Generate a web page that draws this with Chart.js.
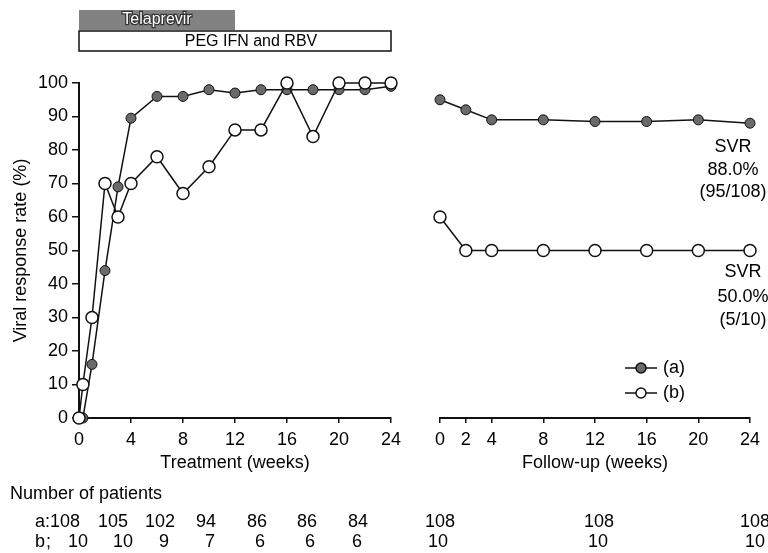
<!DOCTYPE html>
<html>
<head>
<meta charset="utf-8">
<script src="https://cdn.jsdelivr.net/npm/chart.js@4.4.1/dist/chart.umd.min.js"></script>
<style>
html, body { margin: 0; padding: 0; background: #fff; }
#wrap { position: relative; width: 768px; height: 553px; }
#wrap canvas { position: absolute; left: 0; top: 0; }
</style>
</head>
<body>
<div id="wrap">
  <canvas id="treat" width="768" height="553"></canvas>
  <canvas id="follow" width="768" height="553"></canvas>
</div>
<script>
// values
var treat_weeks = [0, 0.3, 1, 2, 3, 4, 6, 8, 10, 12, 14, 16, 18, 20, 22, 24];
var treat_a = [0, 0, 16, 44, 69, 89.5, 96, 96, 98, 97, 98, 98, 98, 98, 98, 99];
var treat_b = [0, 10, 30, 70, 60, 70, 78, 67, 75, 86, 86, 100, 84, 100, 100, 100];

var follow_weeks = [0, 2, 4, 8, 12, 16, 20, 24];
var follow_a = [95, 92, 89, 89, 88.5, 88.5, 89, 88];
var follow_b = [60, 50, 50, 50, 50, 50, 50, 50];

var treat_ticks = [0, 4, 8, 12, 16, 20, 24];
var follow_ticks = [0, 2, 4, 8, 12, 16, 20, 24];

var patients_a = ['108', '105', '102', '94', '86', '86', '84', '108', '108', '108'];
var patients_b = ['10', '10', '9', '7', '6', '6', '6', '10', '10', '10'];

var svr_a = ['SVR', '88.0%', '(95/108)'];
var svr_b = ['SVR', '50.0%', '(5/10)'];

var FONT = "'Liberation Sans', Arial, Helvetica, sans-serif";
Chart.defaults.font.family = FONT;
Chart.defaults.color = '#000';

function to_points(xs, ys) {
    var out = [];
    for (var i = 0; i < xs.length; i++) {
        out.push({x: xs[i], y: ys[i]});
    }
    return out;
}

function series(label, xs, ys, filled) {
    return {
        label: label,
        data: to_points(xs, ys),
        borderColor: '#111',
        borderWidth: 1.5,
        pointBackgroundColor: filled ? '#6a6a6a' : '#fff',
        pointBorderColor: '#111',
        pointBorderWidth: filled ? 1 : 1.5,
        pointRadius: filled ? 5 : 6,
        tension: 0,
        clip: false
    };
}

function x_scale(ticks, title, height) {
    return {
        type: 'linear',
        min: 0,
        max: 24,
        afterBuildTicks: function (s) {
            s.ticks = ticks.map(function (v) { return {value: v}; });
        },
        afterFit: function (s) { s.height = height; },
        grid: {drawOnChartArea: false, drawTicks: true, tickLength: 5, color: '#111', lineWidth: 1.5},
        border: {display: true, color: '#111', width: 2},
        ticks: {font: {size: 18}, padding: 6, maxRotation: 0, autoSkip: false, color: '#000'},
        title: {display: true, text: title, font: {size: 18}, padding: {top: 0, bottom: 0}, color: '#000'}
    };
}

// top bars and the patient table
var treatDecor = {
    id: 'treatDecor',
    afterDraw: function (chart) {
        var ctx = chart.ctx;
        var xs = chart.scales.x;
        var x0 = xs.getPixelForValue(0);
        var x12 = xs.getPixelForValue(12);
        var x24 = xs.getPixelForValue(24);
        ctx.save();
        // Telaprevir bar
        ctx.fillStyle = '#828282';
        ctx.fillRect(x0, 10, x12 - x0, 20);
        ctx.font = '16px ' + FONT;
        ctx.textAlign = 'center';
        ctx.textBaseline = 'middle';
        ctx.lineWidth = 2.5;
        ctx.strokeStyle = '#333';
        ctx.strokeText('Telaprevir', (x0 + x12) / 2, 20);
        ctx.fillStyle = '#fff';
        ctx.fillText('Telaprevir', (x0 + x12) / 2, 20);
        // PEG IFN and RBV bar
        ctx.fillStyle = '#fff';
        ctx.fillRect(x0, 31, x24 - x0, 20);
        ctx.lineWidth = 1.5;
        ctx.strokeStyle = '#111';
        ctx.strokeRect(x0, 31, x24 - x0, 20);
        ctx.fillStyle = '#000';
        ctx.fillText('PEG IFN and RBV', 251, 41.5);

        // Number of patients
        ctx.font = '18px ' + FONT;
        ctx.textAlign = 'left';
        ctx.fillText('Number of patients', 10, 494);
        ctx.fillText('a', 35, 522);
        ctx.fillText(':', 45, 522);
        ctx.fillText('b', 35, 542);
        ctx.fillText(';', 46, 542);
        var ax = [65, 113, 160, 206, 257, 307, 358, 440, 599, 755];
        var bx = [78, 123, 164, 210, 260, 310, 357, 438, 598, 755];
        ctx.textAlign = 'center';
        for (var i = 0; i < patients_a.length; i++) {
            ctx.fillText(patients_a[i], ax[i], 522);
            ctx.fillText(patients_b[i], bx[i], 542);
        }
        ctx.restore();
    }
};

// SVR notes and legend
var followDecor = {
    id: 'followDecor',
    afterDraw: function (chart) {
        var ctx = chart.ctx;
        ctx.save();
        ctx.font = '18px ' + FONT;
        ctx.fillStyle = '#000';
        ctx.textAlign = 'center';
        ctx.textBaseline = 'middle';
        var ya = [147, 170, 192];
        var yb = [272, 297, 320];
        for (var i = 0; i < 3; i++) {
            ctx.fillText(svr_a[i], 733, ya[i]);
            ctx.fillText(svr_b[i], 743, yb[i]);
        }
        var rows = [['(a)', '#6a6a6a', 368], ['(b)', '#fff', 393]];
        rows.forEach(function (r) {
            ctx.strokeStyle = '#111';
            ctx.lineWidth = 1.5;
            ctx.beginPath();
            ctx.moveTo(625, r[2]);
            ctx.lineTo(657, r[2]);
            ctx.stroke();
            ctx.beginPath();
            ctx.arc(641, r[2], 5, 0, Math.PI * 2);
            ctx.fillStyle = r[1];
            ctx.fill();
            ctx.stroke();
            ctx.fillStyle = '#000';
            ctx.textAlign = 'left';
            ctx.fillText(r[0], 663, r[2]);
        });
        ctx.restore();
    }
};

var y_opts = {
    min: 0,
    max: 100,
    afterFit: function (s) { s.width = 79; },
    grid: {drawOnChartArea: false, drawTicks: true, tickLength: 7, color: '#111', lineWidth: 1.5},
    border: {display: true, color: '#111', width: 2},
    ticks: {stepSize: 10, font: {size: 18}, padding: 4, color: '#000'},
    title: {display: true, text: 'Viral response rate (%)', font: {size: 18}, padding: {top: 10, bottom: 0}, color: '#000'}
};

new Chart(document.getElementById('treat').getContext('2d'), {
    type: 'line',
    data: {
        datasets: [
            series('(b)', treat_weeks, treat_b, false),
            series('(a)', treat_weeks, treat_a, true)
        ]
    },
    options: {
        responsive: false,
        animation: false,
        events: [],
        layout: {padding: {left: 0, top: 83, right: 377, bottom: 79}},
        plugins: {legend: {display: false}, tooltip: {enabled: false}},
        scales: {
            x: x_scale(treat_ticks, 'Treatment (weeks)', 56),
            y: y_opts
        }
    },
    plugins: [treatDecor]
});

new Chart(document.getElementById('follow').getContext('2d'), {
    type: 'line',
    data: {
        datasets: [
            series('(b)', follow_weeks, follow_b, false),
            series('(a)', follow_weeks, follow_a, true)
        ]
    },
    options: {
        responsive: false,
        animation: false,
        events: [],
        layout: {padding: {left: 440, top: 83, right: 18, bottom: 79}},
        plugins: {legend: {display: false}, tooltip: {enabled: false}},
        scales: {
            x: x_scale(follow_ticks, 'Follow-up (weeks)', 56),
            y: {display: false, min: 0, max: 100}
        }
    },
    plugins: [followDecor]
});
</script>
</body>
</html>
